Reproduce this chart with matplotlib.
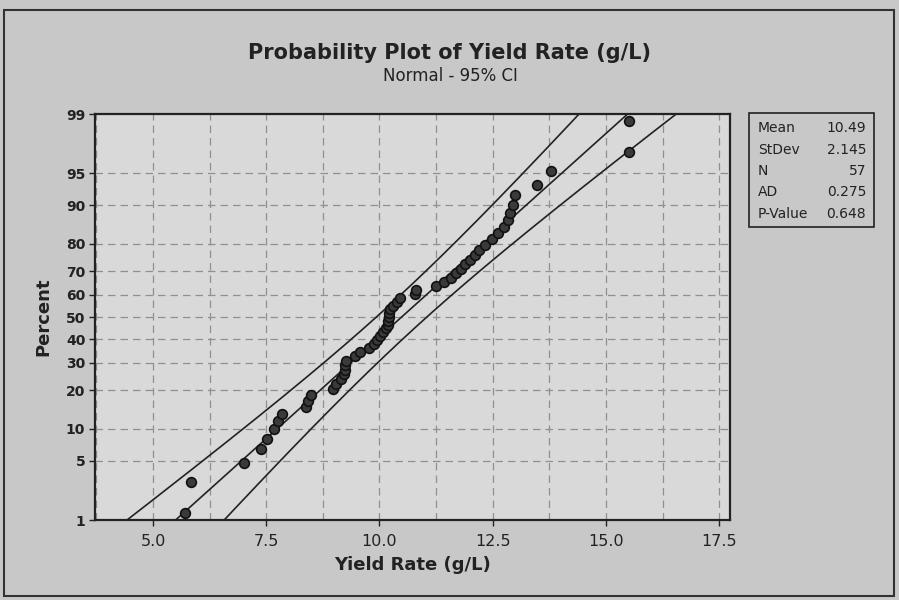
import numpy as np
import matplotlib
matplotlib.use("Agg")
import matplotlib.pyplot as plt
from matplotlib.patches import Rectangle
from statistics import NormalDist

# ---- data ----
yield_rate = [5.71, 5.83, 7.02, 7.39, 7.51, 7.68, 7.76, 7.84, 8.38, 8.43,
              8.48, 8.98, 9.05, 9.16, 9.21, 9.23, 9.24, 9.26, 9.46, 9.57,
              9.78, 9.87, 9.94, 10.01, 10.07, 10.15, 10.18, 10.20, 10.21, 10.22,
              10.23, 10.30, 10.38, 10.45, 10.78, 10.80, 11.25, 11.42, 11.58, 11.70,
              11.80, 11.90, 12.00, 12.10, 12.20, 12.32, 12.48, 12.62, 12.74, 12.84,
              12.88, 12.94, 12.99, 13.48, 13.79, 15.50, 15.50]
mean_val = 10.49
stdev_val = 2.145
n_val = 57
ad_val = 0.275
p_val = 0.648

percent_ticks = [1, 5, 10, 20, 30, 40, 50, 60, 70, 80, 90, 95, 99]
x_ticks = [5.0, 7.5, 10.0, 12.5, 15.0, 17.5]
x_grid = [3.75, 5.0, 6.25, 7.5, 8.75, 10.0, 11.25, 12.5, 13.75, 15.0, 16.25, 17.5]

stats_labels = ["Mean", "StDev", "N", "AD", "P-Value"]
stats_values = ["10.49", "2.145", "57", "0.275", "0.648"]

nd = NormalDist()
ppf = np.vectorize(nd.inv_cdf)

# plotting positions (median ranks)
xs = np.sort(np.array(yield_rate))
ranks = np.arange(1, len(xs) + 1)
pp = (ranks - 0.3) / (len(xs) + 0.4)
zs = ppf(pp)

# fitted line and 95% CI
zline = np.linspace(-3.2, 3.2, 300)
xfit = mean_val + stdev_val * zline
half = 1.96 * stdev_val / np.sqrt(n_val) * np.sqrt(1 + zline ** 2 / 2)

fig = plt.figure(figsize=(8.99, 6.0), dpi=100)
bg = "#c8c8c8"
fig.patch.set_facecolor(bg)
ax = fig.add_axes([95 / 899, 1 - 520 / 600, (730 - 95) / 899, (520 - 114) / 600])
ax.set_facecolor("#d9d9d9")

# grid
for gx in x_grid:
    ax.axvline(gx, color="#909090", lw=0.9, ls=(0, (6, 4)), zorder=1)
for p in percent_ticks[1:-1]:
    ax.axhline(nd.inv_cdf(p / 100), color="#909090", lw=0.9, ls=(0, (6, 4)), zorder=1)

ax.plot(xfit, zline, color="#222222", lw=1.2, zorder=2)
ax.plot(xfit - half, zline, color="#222222", lw=1.2, zorder=2)
ax.plot(xfit + half, zline, color="#222222", lw=1.2, zorder=2)
ax.plot(xs, zs, "o", ms=7, mfc="#3a3a3a", mec="#111111", mew=1.2, zorder=3)

ax.set_xlim(3.72, 17.74)
ax.set_ylim(nd.inv_cdf(0.01), nd.inv_cdf(0.99))
ax.set_yticks([nd.inv_cdf(p / 100) for p in percent_ticks])
ax.set_yticklabels([str(p) for p in percent_ticks], fontsize=10, fontweight="bold", color="#222222")
ax.set_xticks(x_ticks)
ax.set_xticklabels([f"{v:.1f}" for v in x_ticks], fontsize=11.5, color="#222222")
ax.tick_params(axis="both", direction="out", length=4, width=1, color="#222222", pad=3)
ax.tick_params(axis="x", pad=6)
for s in ax.spines.values():
    s.set_linewidth(1.6)
    s.set_color("#222222")

ax.set_xlabel("Yield Rate (g/L)", fontsize=13, fontweight="bold", color="#222222", labelpad=5)
ax.set_ylabel("Percent", fontsize=13, fontweight="bold", color="#222222", labelpad=10)

fig.text(450 / 899, 1 - 53 / 600, "Probability Plot of Yield Rate (g/L)", ha="center", va="center",
         fontsize=15, fontweight="bold", color="#222222")
fig.text(450 / 899, 1 - 76 / 600, "Normal - 95% CI", ha="center", va="center",
         fontsize=12, color="#222222")

# stats box
fig.patches.append(Rectangle((749 / 899, 1 - 227 / 600), (874 - 749) / 899, (227 - 113) / 600,
                             transform=fig.transFigure, facecolor=bg, edgecolor="#222222", lw=1.2))
for k, (lab, val) in enumerate(zip(stats_labels, stats_values)):
    yy = 1 - (128 + 21.5 * k) / 600
    fig.text(758 / 899, yy, lab, ha="left", va="center", fontsize=10, color="#222222")
    fig.text(866 / 899, yy, val, ha="right", va="center", fontsize=10, color="#222222")

# outer frame
fig.patches.append(Rectangle((4 / 899, 1 - 596 / 600), (894 - 4) / 899, (596 - 10) / 600,
                             transform=fig.transFigure, facecolor="none", edgecolor="#333333", lw=1.5))

fig.savefig("out.png", dpi=100, facecolor=fig.get_facecolor())
